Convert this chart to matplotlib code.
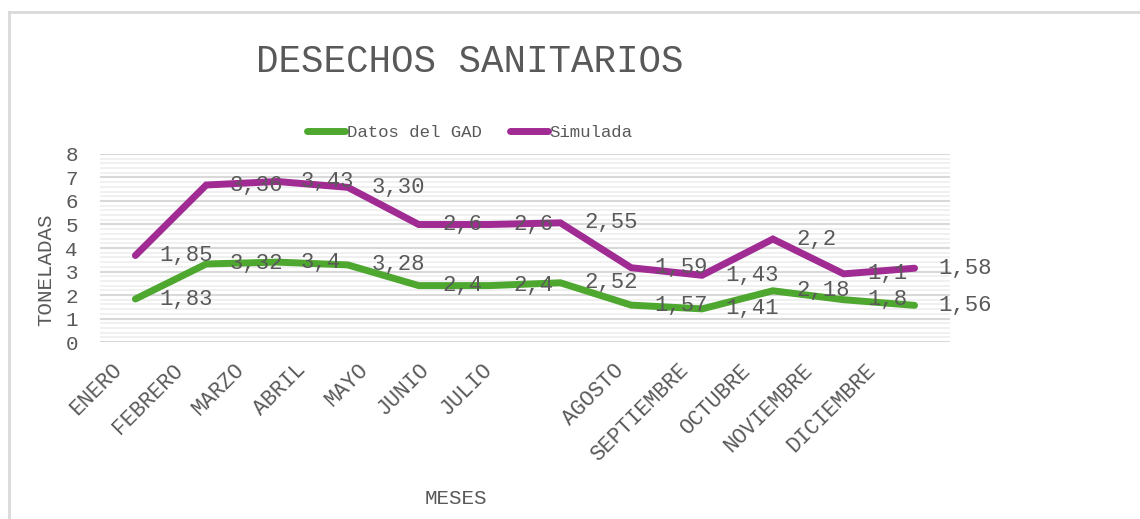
import numpy as np
import matplotlib.pyplot as plt
from matplotlib.lines import Line2D
from matplotlib.ticker import MultipleLocator

# datos del grafico (toneladas por mes)
meses = ['ENERO', 'FEBRERO', 'MARZO', 'ABRIL', 'MAYO', 'JUNIO', 'JULIO',
         'AGOSTO', 'SEPTIEMBRE', 'OCTUBRE', 'NOVIEMBRE', 'DICIEMBRE']
datos_gad = [1.83, 3.32, 3.4, 3.28, 2.4, 2.4, 2.52, 1.57, 1.41, 2.18, 1.8, 1.56]
simulada = [1.85, 3.36, 3.43, 3.30, 2.6, 2.6, 2.55, 1.59, 1.43, 2.2, 1.1, 1.58]
etiquetas_gad = ['1,83', '3,32', '3,4', '3,28', '2,4', '2,4', '2,52', '1,57', '1,41', '2,18', '1,8', '1,56']
etiquetas_sim = ['1,85', '3,36', '3,43', '3,30', '2,6', '2,6', '2,55', '1,59', '1,43', '2,2', '1,1', '1,58']

# desplazamiento horizontal (px) de cada etiqueta del eje x, como en la hoja original
desplaz_px = [-17, -26, -36, -45, -54, -64, -72, -10, -17, -25, -34, -42]

gris = '#595959'
verde = '#4EA72E'
morado = '#A02B93'
plt.rcParams['font.family'] = ['Liberation Mono', 'DejaVu Sans Mono']

fig = plt.figure(figsize=(11.4, 5.19), dpi=100)
ax = fig.add_axes([0.0877, 0.341, 0.7456, 0.3623])

x = np.arange(len(meses))
# linea apilada: la simulada se dibuja sobre los datos del GAD
apilada = np.array(datos_gad) + np.array(simulada)

ax.plot(x, datos_gad, color=verde, lw=5, solid_capstyle='round', solid_joinstyle='miter', label='Datos del GAD', zorder=3)
ax.plot(x, apilada, color=morado, lw=5, solid_capstyle='round', solid_joinstyle='miter', label='Simulada', zorder=3)

for xi, yi, t in zip(x, datos_gad, etiquetas_gad):
    ax.annotate(t, (xi, yi), xytext=(17, 0), textcoords='offset points',
                ha='left', va='center', fontsize=16, color=gris, zorder=4)
for xi, yi, t in zip(x, apilada, etiquetas_sim):
    ax.annotate(t, (xi, yi), xytext=(17, 0), textcoords='offset points',
                ha='left', va='center', fontsize=16, color=gris, zorder=4)

ax.set_xlim(-0.5, len(meses) - 0.5)
ax.set_ylim(0, 8)
ax.yaxis.set_major_locator(MultipleLocator(1))
ax.yaxis.set_minor_locator(MultipleLocator(0.2))
ax.grid(True, which='major', axis='y', color='#D9D9D9', lw=1.5, zorder=1)
ax.grid(True, which='minor', axis='y', color='#EEEEEE', lw=1.2, zorder=0)
for s in ax.spines.values():
    s.set_visible(False)

# etiquetas de meses giradas 45 grados
ax.set_xticks(x)
ax.set_xticklabels([])
ax.tick_params(axis='x', length=0)
for xi, mes, dx in zip(x, meses, desplaz_px):
    ax.annotate(mes, (xi, 0), xytext=(dx * 0.72, -18), textcoords='offset points',
                rotation=45, rotation_mode='anchor', ha='right', va='center',
                fontsize=15.5, color=gris, annotation_clip=False)
ax.tick_params(axis='y', which='both', length=0, pad=16, labelsize=15, labelcolor=gris)

fig.text(0.04, 0.48, 'TONELADAS', rotation=90, ha='center', va='center', fontsize=15, color=gris)
fig.text(0.40, 0.04, 'MESES', ha='center', va='center', fontsize=15, color=gris)
fig.text(0.412, 0.88, 'DESECHOS SANITARIOS', ha='center', va='center', fontsize=27, color=gris)

fig.legend(loc='center', bbox_to_anchor=(0.412, 0.744), ncol=2, frameon=False,
           fontsize=12.5, handlelength=2.2, handletextpad=0.1, columnspacing=1.6,
           labelcolor=gris)

# borde del area del grafico (solo se ven izquierda y arriba)
fig.add_artist(Line2D([0.008, 0.008], [0, 0.976], color='#D9D9D9', lw=2, transform=fig.transFigure))
fig.add_artist(Line2D([0.008, 1], [0.976, 0.976], color='#D9D9D9', lw=2, transform=fig.transFigure))

fig.savefig('out.png', dpi=100)
